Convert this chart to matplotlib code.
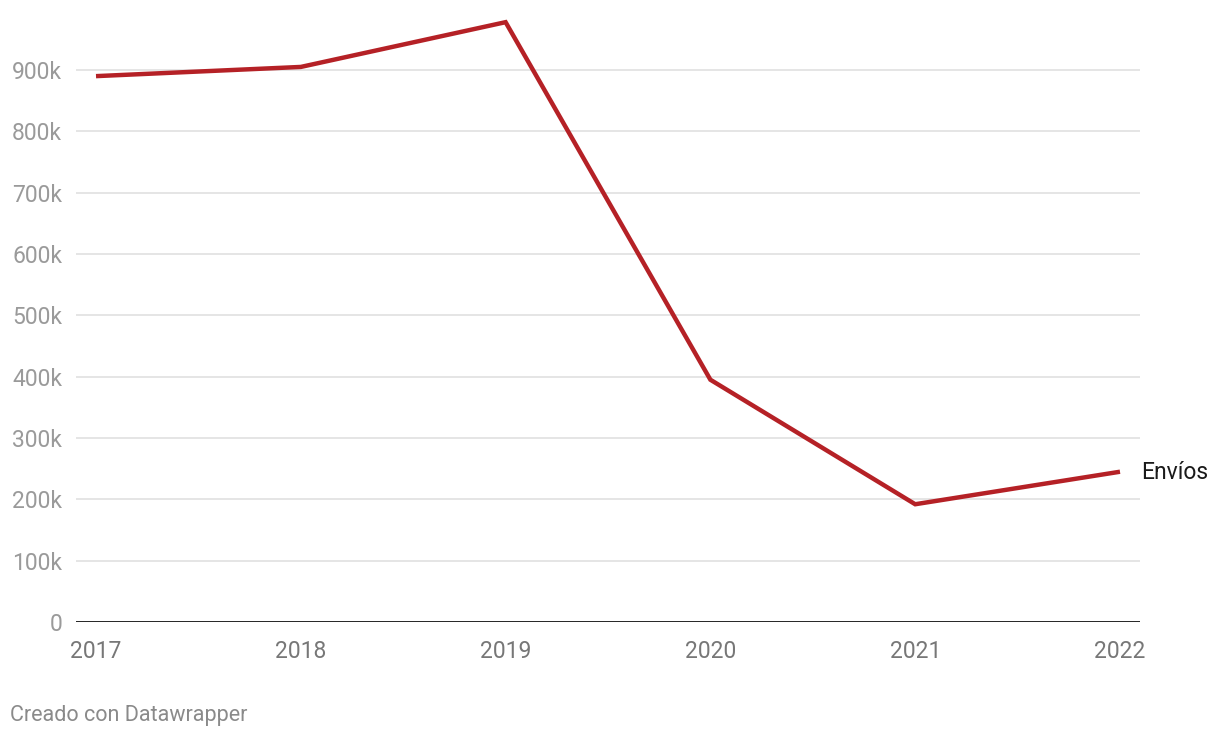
import matplotlib
matplotlib.use("Agg")
import matplotlib.pyplot as plt

years = [2017, 2018, 2019, 2020, 2021, 2022]
envios = [890000, 905000, 978000, 395000, 192000, 245000]
yticks = [0, 100000, 200000, 300000, 400000, 500000, 600000, 700000, 800000, 900000]
ytick_labels = ["0", "100k", "200k", "300k", "400k", "500k", "600k", "700k", "800k", "900k"]
series_label = "Envíos"
footer = "Creado con Datawrapper"

plt.rcParams['font.family'] = ['Roboto', 'DejaVu Sans']

W, H = 1220, 738
fig = plt.figure(figsize=(W / 100, H / 100), dpi=100)
ax_left, ax_right, ax_bottom, ax_top = 76, 1140, 622, 10
ax = fig.add_axes([ax_left / W, 1 - ax_bottom / H, (ax_right - ax_left) / W, (ax_bottom - ax_top) / H])

px_per_year = (1120 - 96) / 5
ax.set_xlim(2017 - (96 - ax_left) / px_per_year, 2022 + (ax_right - 1120) / px_per_year)
px_per_unit = (622 - 70) / 900000
ax.set_ylim(0, (ax_bottom - ax_top) / px_per_unit)

for v in yticks[1:]:
    ax.axhline(v, color="#e3e3e3", lw=1.3, zorder=1)
ax.axhline(0, color="#111111", lw=2.0, zorder=3)

ax.plot(years, envios, color="#b52126", lw=3.2, solid_joinstyle="miter", solid_capstyle="butt", zorder=4, clip_on=False)

ax.text(2022 + (1141 - 1120) / px_per_year, envios[-1] - 2000, series_label, color="#1a1a1a",
        fontsize=16.5, va="center", ha="left", clip_on=False)

for s in ax.spines.values():
    s.set_visible(False)
ax.set_yticks(yticks)
ax.set_yticklabels(ytick_labels)
ax.set_xticks(years)
ax.set_xticklabels([str(y) for y in years])
ax.tick_params(axis="y", length=0, pad=10, labelsize=16.5, labelcolor="#9a9a9a")
ax.tick_params(axis="x", length=0, pad=13, labelsize=16.5, labelcolor="#777777")

fig.text(10 / W, 1 - 715 / H, footer, color="#8a8a8a", fontsize=15.5, va="center", ha="left")

fig.savefig("out.png", dpi=100, facecolor="white")
